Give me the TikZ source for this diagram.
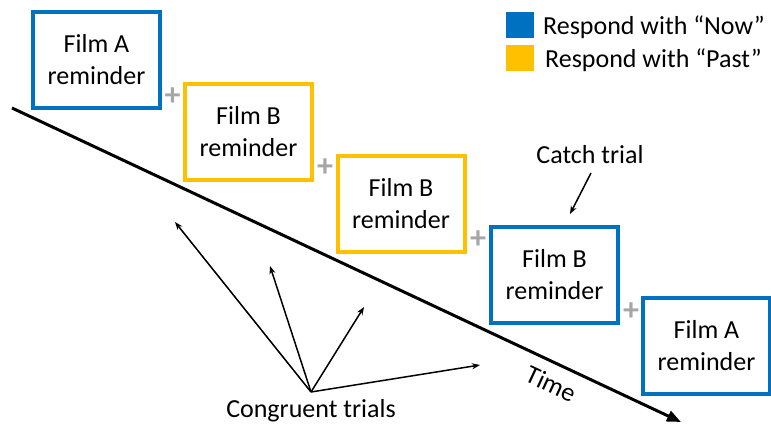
\documentclass[tikz,border=0pt]{standalone}
\usepackage{fontspec}
\setmainfont{Carlito}
\usetikzlibrary{arrows.meta}
\definecolor{nowblue}{HTML}{0070C0}
\definecolor{pastyellow}{HTML}{FFC000}
\definecolor{plusgray}{HTML}{A6A6A6}
\begin{document}
\begin{tikzpicture}[x=1pt,y=-1pt,
  trialbox/.style={draw, line width=4pt, minimum width=127pt, minimum height=96pt, align=center, inner sep=0pt, font=\fontsize{26}{32}\selectfont},
  nowbox/.style={trialbox, draw=nowblue},
  pastbox/.style={trialbox, draw=pastyellow},
  plussign/.style={text=plusgray, font=\fontsize{32}{32}\selectfont\bfseries, inner sep=0pt},
  lbl/.style={font=\fontsize{26}{32}\selectfont, inner sep=0pt},
  thinarrow/.style={line width=1.5pt, -{Stealth[length=8pt,width=6pt]}},
  legsq/.style={minimum width=28pt, minimum height=26pt, inner sep=0pt}
]
\useasboundingbox (0,0) rectangle (771,428);
% time axis
\coordinate (t0) at (12,108);
\coordinate (t1) at (681,422);
\draw[line width=3pt, -{Triangle[length=14pt,width=11pt]}] (t0) -- (t1);
\node[lbl, rotate=-25] (time) at (551,384) {Time};
% boxes
\node[nowbox] (b1) at (96.5,60) {Film A\\reminder};
\node[pastbox] (b2) at (248.5,132) {Film B\\reminder};
\node[pastbox] (b3) at (401,203.5) {Film B\\reminder};
\node[nowbox] (b4) at (554.5,275) {Film B\\reminder};
\node[nowbox] (b5) at (706.5,346) {Film A\\reminder};
% plus signs
\node[plussign] (p1) at (172.5,97) {+};
\node[plussign] (p2) at (325,168) {+};
\node[plussign] (p3) at (478,240) {+};
\node[plussign] (p4) at (631,312) {+};
% legend
\node[legsq, fill=nowblue] (lg1) at (520,25) {};
\node[legsq, fill=pastyellow] (lg2) at (520,58.5) {};
\node[lbl, anchor=west] (lt1) at (543,27) {Respond with “Now”};
\node[lbl, anchor=west] (lt2) at (545,60) {Respond with “Past”};
% catch trial
\node[lbl] (catch) at (590,155) {Catch trial};
\coordinate (ca0) at (591,173);
\coordinate (ca1) at (570,214);
\draw[thinarrow] (ca0) -- (ca1);
% congruent trials
\node[lbl] (cong) at (311,411) {Congruent trials};
\coordinate (c0) at (311,392);
\coordinate (c1) at (175,222);
\coordinate (c2) at (270,266);
\coordinate (c3) at (364,307);
\coordinate (c4) at (480,365);
\draw[thinarrow] (c0) -- (c1);
\draw[thinarrow] (c0) -- (c2);
\draw[thinarrow] (c0) -- (c3);
\draw[thinarrow] (c0) -- (c4);
\end{tikzpicture}
\end{document}
